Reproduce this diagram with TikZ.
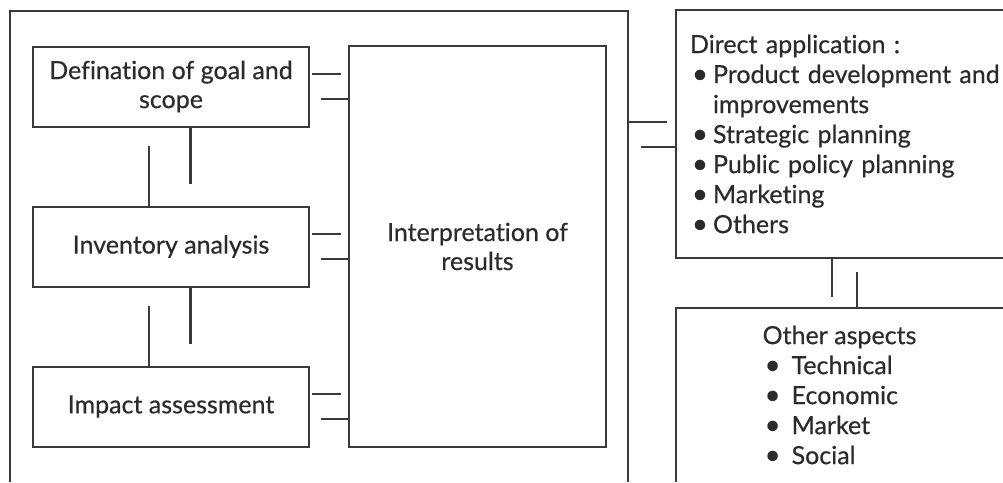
\documentclass[tikz,border=0pt]{standalone}
\usepackage{fontspec}
\setmainfont{Lato}[FakeBold=0.5, Ligatures={NoCommon}]
\usetikzlibrary{positioning,calc}

\definecolor{ink}{HTML}{3A3A3A}
\definecolor{txt}{HTML}{2B2B2B}
\tikzset{
	stage/.style={draw=ink, line width=2pt, outer sep=0pt, minimum width=276pt, minimum height=80pt, align=center, text=txt, font=\fontsize{25}{29}\selectfont},
	panel/.style={outer sep=0pt, inner sep=0pt, align=left, text=txt, font=\fontsize{25}{30}\selectfont},
	link/.style={draw=ink, line width=2pt},
	tlink/.style={draw=ink, line width=3pt},
}
\newcommand{\bul}[2][21pt]{\hspace*{2pt}\makebox[#1][l]{\scalebox{1.1}{\textbullet}}\mbox{#2}}

\begin{document}
\begin{tikzpicture}[x=1pt, y=-1pt, node distance=80pt]
		\useasboundingbox (0,0) rectangle (1003,482);
		
		% study frame
		\node[panel, anchor=north west, minimum width=618pt, minimum height=471pt] (frame) at (10,11) {};
		\draw[link] (frame.south west) |- (frame.north east) -- (frame.south east);
		
		\node[stage] (goal) at (171,86.5) {Defination of goal and\\scope};
		\node[stage, below=of goal] (inv) {Inventory analysis};
		\node[stage, below=of inv] (impact) {Impact assessment};
		\node[stage, minimum width=257pt, minimum height=401pt, anchor=north west] (interp) at (349,46) {Interpretation of\\results};
		
		\foreach \n in {goal,inv,impact}{
			\draw[link] ($(\n.east)+(3pt,13pt)$) -- ($(\n.east -| interp.west)+(-8pt,13pt)$);
			\draw[link] ($(\n.east)+(12pt,-12.5pt)$) -- ($(\n.east -| interp.west)+(0pt,-12.5pt)$);
		}
		\foreach \a/\b in {goal/inv,inv/impact}{
			\draw[tlink] ($(\a.south)+(19pt,0pt)$) -- ($(\b.north)+(19pt,23pt)$);
			\draw[link] ($(\a.south)+(-22pt,-19pt)$) -- ($(\b.north)+(-22pt,0pt)$);
		}
		
		% applications
		\node[panel, anchor=north west, minimum width=327pt, minimum height=248pt, inner xsep=14pt, text width=313pt] (direct) at (676,10) {Direct application :\\
			\bul{Product development and}\\
			\hspace*{23pt}improvements\\
			\bul{Strategic planning}\\
			\bul{Public policy planning}\\
			\bul{Marketing}\\
			\bul{Others}};
		\draw[link] (direct.north east) -| (direct.south west) -- (direct.south east);
		
		\node[panel, anchor=north west, minimum width=327pt, minimum height=174pt] (other) at (676,308) {Other aspects\\
			\bul[27pt]{Technical}\\
			\bul[27pt]{Economic}\\
			\bul[27pt]{Market}\\
			\bul[27pt]{Social}};
		\draw[link] (other.south west) |- (other.north east);
		
		\draw[link] ($(frame.north east)+(0pt,-111pt)$) -- ($(direct.north west)+(-9pt,-112pt)$);
		\draw[link] ($(frame.north east)+(13pt,-136pt)$) -- ($(direct.north west)+(0pt,-137pt)$);
		\draw[link] ($(direct.south west)+(156pt,0pt)$) -- ($(other.north west)+(156pt,11pt)$);
		\draw[link] ($(direct.south west)+(181pt,-14pt)$) -- ($(other.north west)+(181pt,0pt)$);
	\end{tikzpicture}
\end{document}
